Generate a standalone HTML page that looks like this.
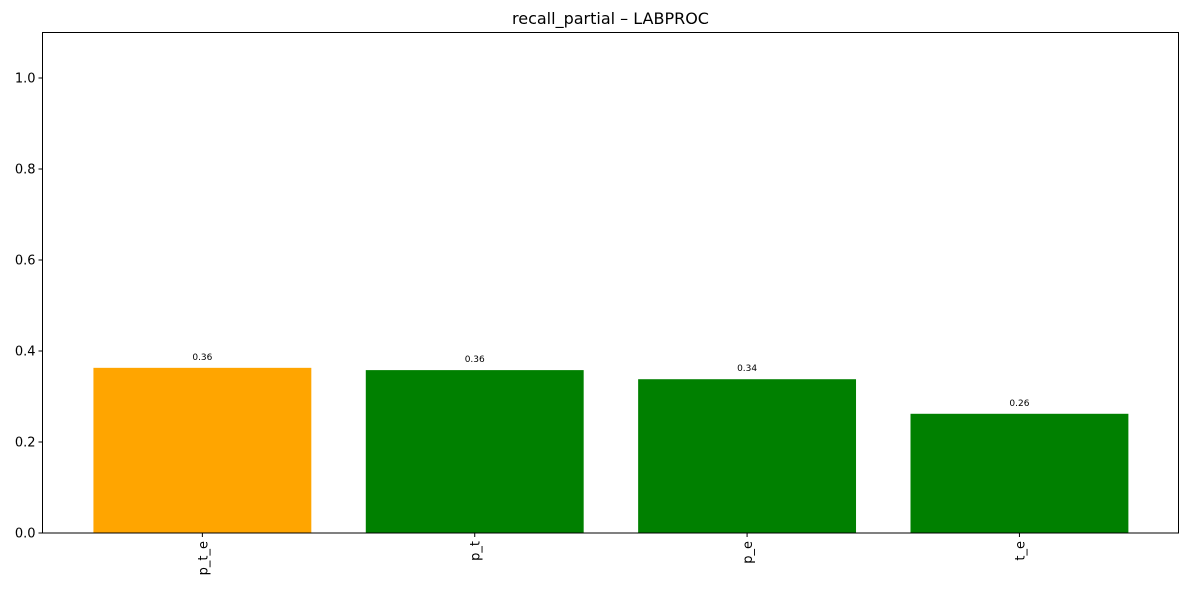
<!DOCTYPE html>
<html><head><meta charset="utf-8">
<style>
html,body{margin:0;padding:0;background:#fff;}
svg{display:block;font-family:"DejaVu Sans","Liberation Sans",sans-serif;}
</style></head>
<body>
<svg id="chart" width="1189" height="590" viewBox="0 0 1189 590" xmlns="http://www.w3.org/2000/svg">
<text x="610.5" y="24" font-size="16" text-anchor="middle" fill="#000">recall_partial – LABPROC</text>
<g id="bars"></g>
<g id="yaxis"></g>
<g id="xaxis"></g>
<rect x="42.5" y="32.5" width="1136" height="500.5" fill="none" stroke="#000" stroke-width="1"/>
</svg>
<script>
const categories = ["p_t_e", "p_t", "p_e", "t_e"];
const values = [0.363, 0.358, 0.338, 0.262];
const valueLabels = ["0.36", "0.36", "0.34", "0.26"];
const barColors = ["#ffa500", "#008000", "#008000", "#008000"];
const yTicks = [0.0, 0.2, 0.4, 0.6, 0.8, 1.0];
const yTickLabels = ["0.0", "0.2", "0.4", "0.6", "0.8", "1.0"];

const NS = "http://www.w3.org/2000/svg";
const plotLeft = 42.5, plotRight = 1178.5, plotTop = 32.5, plotBottom = 533;
const yMax = 1.1, xMin = -0.587, xMax = categories.length - 0.416;
function yScale(v){ return plotBottom - (v / yMax) * (plotBottom - plotTop); }
function xScale(i){ return plotLeft + (i - xMin) / (xMax - xMin) * (plotRight - plotLeft); }
function mk(tag, attrs, parent){ const e = document.createElementNS(NS, tag); for (const k in attrs) e.setAttribute(k, attrs[k]); parent.appendChild(e); return e; }

const barsG = document.getElementById("bars");
const yaxisG = document.getElementById("yaxis");
const xaxisG = document.getElementById("xaxis");
const bw = 0.8 * (xScale(1) - xScale(0));

categories.forEach((c, i) => {
  const cx = xScale(i);
  const r = mk("rect", {x: cx - bw/2, y: yScale(values[i]), width: bw, height: plotBottom - yScale(values[i]), fill: barColors[i]}, barsG);
  
  
  const t = mk("text", {x: cx, y: yScale(values[i]) - 8, "font-size": 9, "text-anchor": "middle", fill: "#000"}, barsG);
  t.textContent = valueLabels[i];
  
  
  const tk = mk("line", {x1: cx, x2: cx, y1: plotBottom, y2: plotBottom + 4, stroke: "#000"}, xaxisG);
  
  
  const xl = mk("text", {x: 0, y: 0, "font-size": 13, "text-anchor": "end", transform: "translate(" + (cx + 5) + "," + (plotBottom + 8) + ") rotate(-90)", fill: "#000"}, xaxisG);
  xl.textContent = c;
  
  
});

yTicks.forEach((v, i) => {
  const y = yScale(v);
  const tk = mk("line", {x1: plotLeft - 4, x2: plotLeft, y1: y, y2: y, stroke: "#000"}, yaxisG);
  
  
  const t = mk("text", {x: plotLeft - 7, y: y + 4.5, "font-size": 13, "text-anchor": "end", fill: "#000"}, yaxisG);
  t.textContent = yTickLabels[i];
  
  
});
</script>
</body></html>
